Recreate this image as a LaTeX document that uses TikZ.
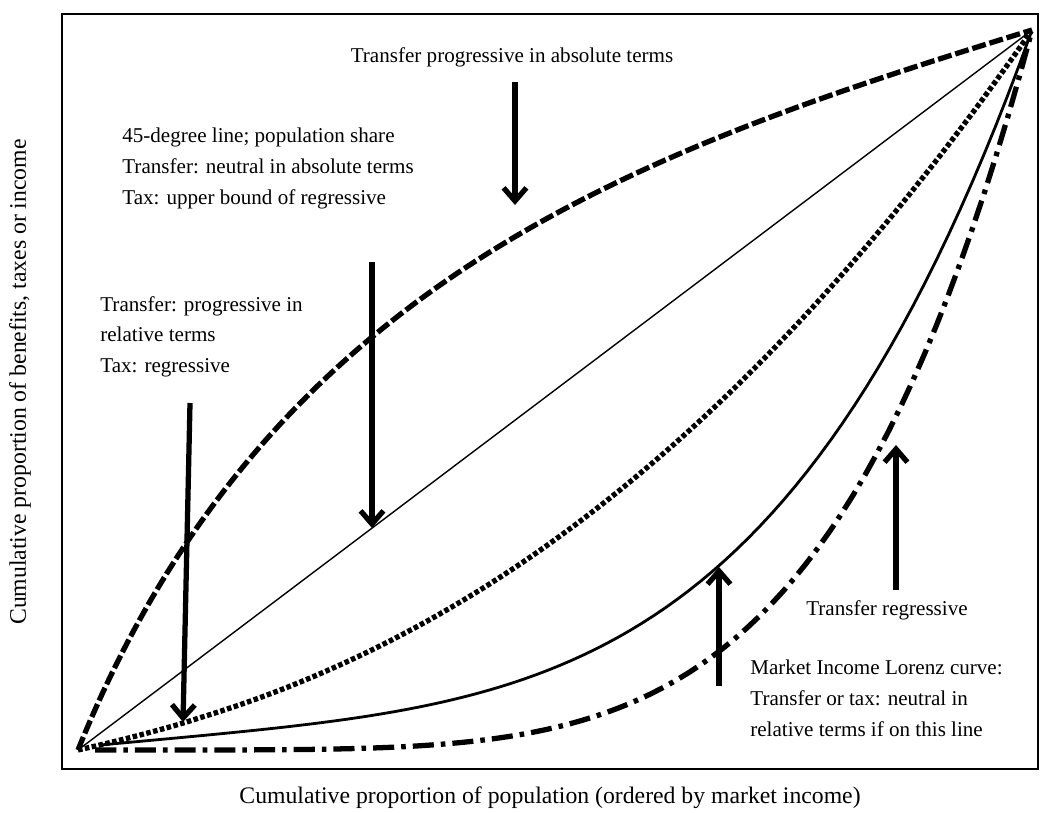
\documentclass[tikz,border=0pt]{standalone}
\usepackage{fontspec}
\setmainfont{Liberation Serif}
\usetikzlibrary{arrows.meta}

\tikzset{
    note/.style={font=\fontsize{12}{17.5}\selectfont, inner sep=0pt, align=left},
    axistitle/.style={font=\fontsize{13.5}{16}\selectfont, inner sep=0pt},
    pointer/.style={line width=3pt, -{Straight Barb[length=7.5pt,width=13pt]}},
    absline/.style={line width=3pt, dash pattern=on 8pt off 2.2pt},
    dotline/.style={line width=3pt, dash pattern=on 2.6pt off 1.4pt},
    popline/.style={line width=0.8pt},
    lorenzline/.style={line width=1.6pt},
    regline/.style={line width=3pt, dash pattern=on 12pt off 4pt on 2.6pt off 4pt}
}

\begin{document}
\begin{tikzpicture}[x=0.02cm,y=-0.02cm]
\useasboundingbox (0,0) rectangle (1040,812);

% Frame of the chart.
\draw[line width=1.2pt] (62,14) rectangle (1038,769);

% Common end points of all curves.
\coordinate (O) at (78,750);
\coordinate (T) at (1032,30);

% Transfer progressive in absolute terms (concave, dashed).
\draw[absline] (O) .. controls (269,275) and (650,148) .. (T);

% 45-degree line.
\draw[popline] (O) -- (T);

% Progressive in relative terms (dotted).
\draw[dotline]
    plot[domain=0:1,samples=80] ({78+954*\x},{750-720*(0.3*\x+0.7*(\x)^2.3)});

% Market income Lorenz curve.
\draw[lorenzline]
    plot[domain=0:1,samples=80] ({100+932*\x},{745-715*(0.12*\x+0.88*(\x)^4)});

% Regressive transfer (dash dot).
\draw[regline]
    plot[domain=0.018:1,samples=80] ({78+954*\x},{750-720*(\x)^5});

% Arrow end points.
\coordinate (absTail) at (515,82);
\coordinate (absTip) at (515,205);
\coordinate (diagTail) at (372,262);
\coordinate (diagTip) at (372,528);
\coordinate (relTail) at (190,403);
\coordinate (relTip) at (183,722);
\coordinate (lorTail) at (719,686);
\coordinate (lorTip) at (719,567);
\coordinate (regTail) at (896,590);
\coordinate (regTip) at (896,445);

% Arrows. Loop over each pair.
\foreach \a in {abs,diag,rel,lor,reg} {
    \draw[pointer] (\a Tail) -- (\a Tip);
}

% Labels of the curves.
\node[note, anchor=north] (lblAbs) at (512,47)
    {Transfer progressive in absolute terms};
\node[note, anchor=north west] (lblNeutral) at (122,128)
    {45-degree line; population share\\
     Transfer: neutral in absolute terms\\
     Tax: upper bound of regressive};
\node[note, anchor=north west] (lblRel) at (100,296)
    {Transfer: progressive in\\
     relative terms\\
     Tax: regressive};
\node[note] (lblRegr) at (887,610) {Transfer regressive};
\node[note, anchor=north west] (lblLorenz) at (750,660)
    {Market Income Lorenz curve:\\
     Transfer or tax: neutral in\\
     relative terms if on this line};

% Axis titles.
\node[axistitle] (xTitle) at (550,798)
    {Cumulative proportion of population (ordered by market income)};
\node[axistitle, rotate=90] (yTitle) at (20,382)
    {Cumulative proportion of benefits, taxes or income};

\end{tikzpicture}
\end{document}
